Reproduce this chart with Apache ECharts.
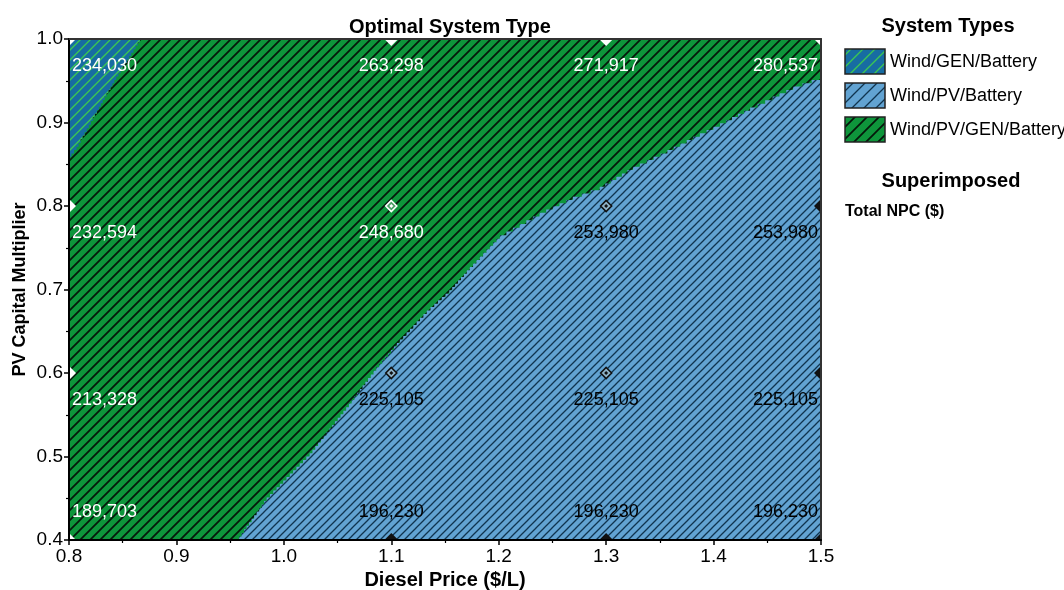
<!DOCTYPE html>
<html>
<head>
<meta charset="utf-8">
<script src="https://cdn.jsdelivr.net/npm/echarts@6/dist/echarts.min.js"></script>
<style>
html,body{margin:0;padding:0;background:#fff}
#chart{width:1064px;height:590px}
</style>
</head>
<body>
<div id="chart"></div>
<script>
// axis ticks
const dieselTicks = [0.8, 0.9, 1.0, 1.1, 1.2, 1.3, 1.4, 1.5];
const pvTicks = [0.4, 0.5, 0.6, 0.7, 0.8, 0.9, 1.0];

// sensitivity cases, superimposed Total NPC ($)
const dieselPrices = [0.8, 1.1, 1.3, 1.5];
const pvMultipliers = [0.4, 0.6, 0.8, 1.0];
const npcAt04 = [189703, 196230, 196230, 196230];
const npcAt06 = [213328, 225105, 225105, 225105];
const npcAt08 = [232594, 248680, 253980, 253980];
const npcAt10 = [234030, 263298, 271917, 280537];
// optimal system of each case (index into systemTypes)
const typeAt04 = [2, 1, 1, 1];
const typeAt06 = [2, 1, 1, 1];
const typeAt08 = [2, 2, 1, 1];
const typeAt10 = [0, 2, 2, 2];

const systemTypes = ['Wind/GEN/Battery', 'Wind/PV/Battery', 'Wind/PV/GEN/Battery'];

// region outlines, [diesel price, pv multiplier]
const windGenBorder = [[0.8, 0.859], [0.807, 0.871], [0.826, 0.915], [0.844, 0.955], [0.866, 1.0], [0.8, 1.0]];
const windPvBorder = [[0.956, 0.4], [0.984, 0.451], [1.024, 0.504], [1.058, 0.559], [1.086, 0.607],
  [1.108, 0.64], [1.133, 0.675], [1.154, 0.699], [1.173, 0.727], [1.201, 0.765], [1.238, 0.792],
  [1.269, 0.811], [1.294, 0.823], [1.325, 0.847], [1.357, 0.867], [1.381, 0.883], [1.406, 0.899],
  [1.434, 0.918], [1.455, 0.931], [1.474, 0.943], [1.5, 0.955], [1.5, 0.4]];
const windPvGenBorder = [[0.8, 0.4], [1.5, 0.4], [1.5, 1.0], [0.8, 1.0]];

const npcRows = [npcAt04, npcAt06, npcAt08, npcAt10];
const typeRows = [typeAt04, typeAt06, typeAt08, typeAt10];

const FONT = '"Liberation Sans", Arial, sans-serif';

function hatch(bg, ink, gap, width) {
  const c = document.createElement('canvas');
  c.width = gap; c.height = gap;
  const g = c.getContext('2d');
  g.fillStyle = bg;
  g.fillRect(0, 0, gap, gap);
  g.strokeStyle = ink;
  g.lineWidth = width;
  g.beginPath();
  g.moveTo(-1, gap + 1); g.lineTo(gap + 1, -1);
  g.moveTo(-2, 2); g.lineTo(2, -2);
  g.moveTo(gap - 2, gap + 2); g.lineTo(gap + 2, gap - 2);
  g.stroke();
  return { image: c, repeat: 'repeat' };
}

const fills = [
  hatch('#176ca2', '#3cc653', 10, 1.4),
  hatch('#62a3d2', '#10344f', 8, 1.3),
  hatch('#0e953b', '#05170a', 10, 1.7)
];
const legendFills = [
  hatch('#176ca2', '#3cc653', 12, 1.4),
  hatch('#62a3d2', '#10344f', 12, 1.3),
  hatch('#0e953b', '#05170a', 12, 1.7)
];

// jagged edge like the raster output of the original
function stairs(pts, step) {
  const out = [pts[0]];
  for (let i = 1; i < pts.length; i++) {
    const a = pts[i - 1], b = pts[i];
    const n = Math.max(1, Math.round(Math.abs(b[1] - a[1]) / step));
    let py = a[1];
    for (let k = 1; k <= n; k++) {
      const x = a[0] + (b[0] - a[0]) * k / n;
      const y = a[1] + (b[1] - a[1]) * k / n;
      out.push([x, py], [x, y]);
      py = y;
    }
  }
  return out;
}

function regionSeries(name, border, fill, z) {
  return {
    name: name,
    type: 'custom',
    coordinateSystem: 'cartesian2d',
    clip: true,
    silent: true,
    z: z,
    data: border,
    encode: { x: 0, y: 1 },
    renderItem: function (params, api) {
      if (params.dataIndex !== 0) return null;
      const pts = border.map(p => api.coord(p));
      return { type: 'polygon', shape: { points: stairs(pts, 3.5) }, style: { fill: fill } };
    }
  };
}

const xMin = dieselTicks[0], xMax = dieselTicks[dieselTicks.length - 1];
const yMin = pvTicks[0], yMax = pvTicks[pvTicks.length - 1];

const cases = [];
pvMultipliers.forEach((pv, r) => {
  dieselPrices.forEach((d, c) => {
    cases.push([d, pv, npcRows[r][c], typeRows[r][c]]);
  });
});

function diamond(cx, cy, r) {
  return [[cx, cy - r], [cx + r, cy], [cx, cy + r], [cx - r, cy]];
}

const chart = echarts.init(document.getElementById('chart'));

const axisCommon = {
  type: 'value',
  splitLine: { show: false },
  axisLine: { show: true, onZero: false, lineStyle: { color: '#000', width: 2 } },
  axisTick: { show: true, length: 5, lineStyle: { color: '#000', width: 1.5 } },
  minorTick: { show: true, splitNumber: 2, length: 3, lineStyle: { color: '#000', width: 1.2 } },
  axisLabel: { color: '#000', fontSize: 19, fontFamily: FONT, formatter: v => v.toFixed(1) },
  nameLocation: 'middle',
  nameMoveOverlap: false,
  z: 10
};
const frameCommon = {
  type: 'value',
  splitLine: { show: false },
  axisLine: { show: true, onZero: false, lineStyle: { color: '#333', width: 2 } },
  axisTick: { show: false },
  axisLabel: { show: false },
  z: 10
};

const option = {
  animation: false,
  backgroundColor: '#fff',
  title: {
    text: 'Optimal System Type',
    left: 445,
    textAlign: 'center',
    top: 12,
    textStyle: { fontSize: 20, fontWeight: 'bold', color: '#000', fontFamily: FONT }
  },
  grid: { left: 69, right: 243, top: 39, bottom: 50, containLabel: false, outerBoundsMode: 'none' },
  xAxis: [
    Object.assign({}, axisCommon, {
      position: 'bottom', min: xMin, max: xMax,
      interval: Math.round((dieselTicks[1] - dieselTicks[0]) * 100) / 100,
      axisLabel: Object.assign({}, axisCommon.axisLabel, { margin: 7 }),
      name: 'Diesel Price ($/L)', nameGap: 30,
      nameTextStyle: { fontSize: 20, fontWeight: 'bold', color: '#000', fontFamily: FONT }
    }),
    Object.assign({}, frameCommon, { position: 'top', min: xMin, max: xMax })
  ],
  yAxis: [
    Object.assign({}, axisCommon, {
      position: 'left', min: yMin, max: yMax,
      interval: Math.round((pvTicks[1] - pvTicks[0]) * 100) / 100,
      axisLabel: Object.assign({}, axisCommon.axisLabel, { margin: 6 }),
      name: 'PV Capital Multiplier', nameGap: 40,
      nameTextStyle: { fontSize: 18, fontWeight: 'bold', color: '#000', fontFamily: FONT }
    }),
    Object.assign({}, frameCommon, { position: 'right', min: yMin, max: yMax })
  ],
  graphic: [
    { type: 'text', x: 948, y: 26, style: { text: 'System Types', font: 'bold 20px ' + FONT, fill: '#000', align: 'center', verticalAlign: 'middle', textAlign: 'center', textVerticalAlign: 'middle' } },
    ...systemTypes.map((name, i) => ({
      type: 'group', children: [
        { type: 'rect', shape: { x: 845, y: 49 + i * 34, width: 40, height: 25 }, style: { fill: legendFills[i], stroke: '#222', lineWidth: 1.5 } },
        { type: 'text', x: 890, y: 62 + i * 34, style: { text: name, font: '18px ' + FONT, fill: '#000', align: 'left', verticalAlign: 'middle', textAlign: 'left', textVerticalAlign: 'middle' } }
      ]
    })),
    { type: 'text', x: 951, y: 181, style: { text: 'Superimposed', font: 'bold 20px ' + FONT, fill: '#000', align: 'center', verticalAlign: 'middle', textAlign: 'center', textVerticalAlign: 'middle' } },
    { type: 'text', x: 845, y: 212, style: { text: 'Total NPC ($)', font: 'bold 16px ' + FONT, fill: '#000', align: 'left', verticalAlign: 'middle', textAlign: 'left', textVerticalAlign: 'middle' } }
  ],
  series: [
    regionSeries(systemTypes[2], windPvGenBorder, fills[2], 2),
    regionSeries(systemTypes[0], windGenBorder, fills[0], 3),
    regionSeries(systemTypes[1], windPvBorder, fills[1], 4),
    {
      name: 'Total NPC ($)',
      type: 'custom',
      coordinateSystem: 'cartesian2d',
      clip: true,
      silent: true,
      z: 6,
      data: cases,
      encode: { x: 0, y: 1 },
      renderItem: function (params, api) {
        const x = api.value(0), y = api.value(1), npc = api.value(2), t = api.value(3);
        const p = api.coord([x, y]);
        const dark = t === 1;
        const ink = dark ? '#111' : '#fff';
        const onEdge = x === xMin || x === xMax || y === yMin || y === yMax;
        const children = [];
        if (onEdge) {
          children.push({ type: 'polygon', shape: { points: diamond(p[0], p[1], 7) }, style: { fill: ink } });
        } else {
          children.push({ type: 'polygon', shape: { points: diamond(p[0], p[1], 5.5) }, style: { fill: dark ? '#8fb3c8' : '#4d9f66', stroke: ink, lineWidth: 1.6 } });
          children.push({ type: 'polygon', shape: { points: diamond(p[0], p[1], 2) }, style: { fill: ink } });
        }
        let tx = p[0], align = 'center';
        if (x === xMin) { tx = p[0] + 3; align = 'left'; }
        if (x === xMax) { tx = p[0] - 3; align = 'right'; }
        const ty = y === yMin ? p[1] - 28 : p[1] + 27;
        children.push({
          type: 'text', x: tx, y: ty,
          style: {
            text: npc.toLocaleString('en-US'), font: '18px ' + FONT,
            fill: dark ? '#000' : '#fff',
            align: align, verticalAlign: 'middle', textAlign: align, textVerticalAlign: 'middle'
          }
        });
        return { type: 'group', children: children };
      }
    }
  ]
};

chart.setOption(option);
window.addEventListener('resize', () => chart.resize());
</script>
</body>
</html>
